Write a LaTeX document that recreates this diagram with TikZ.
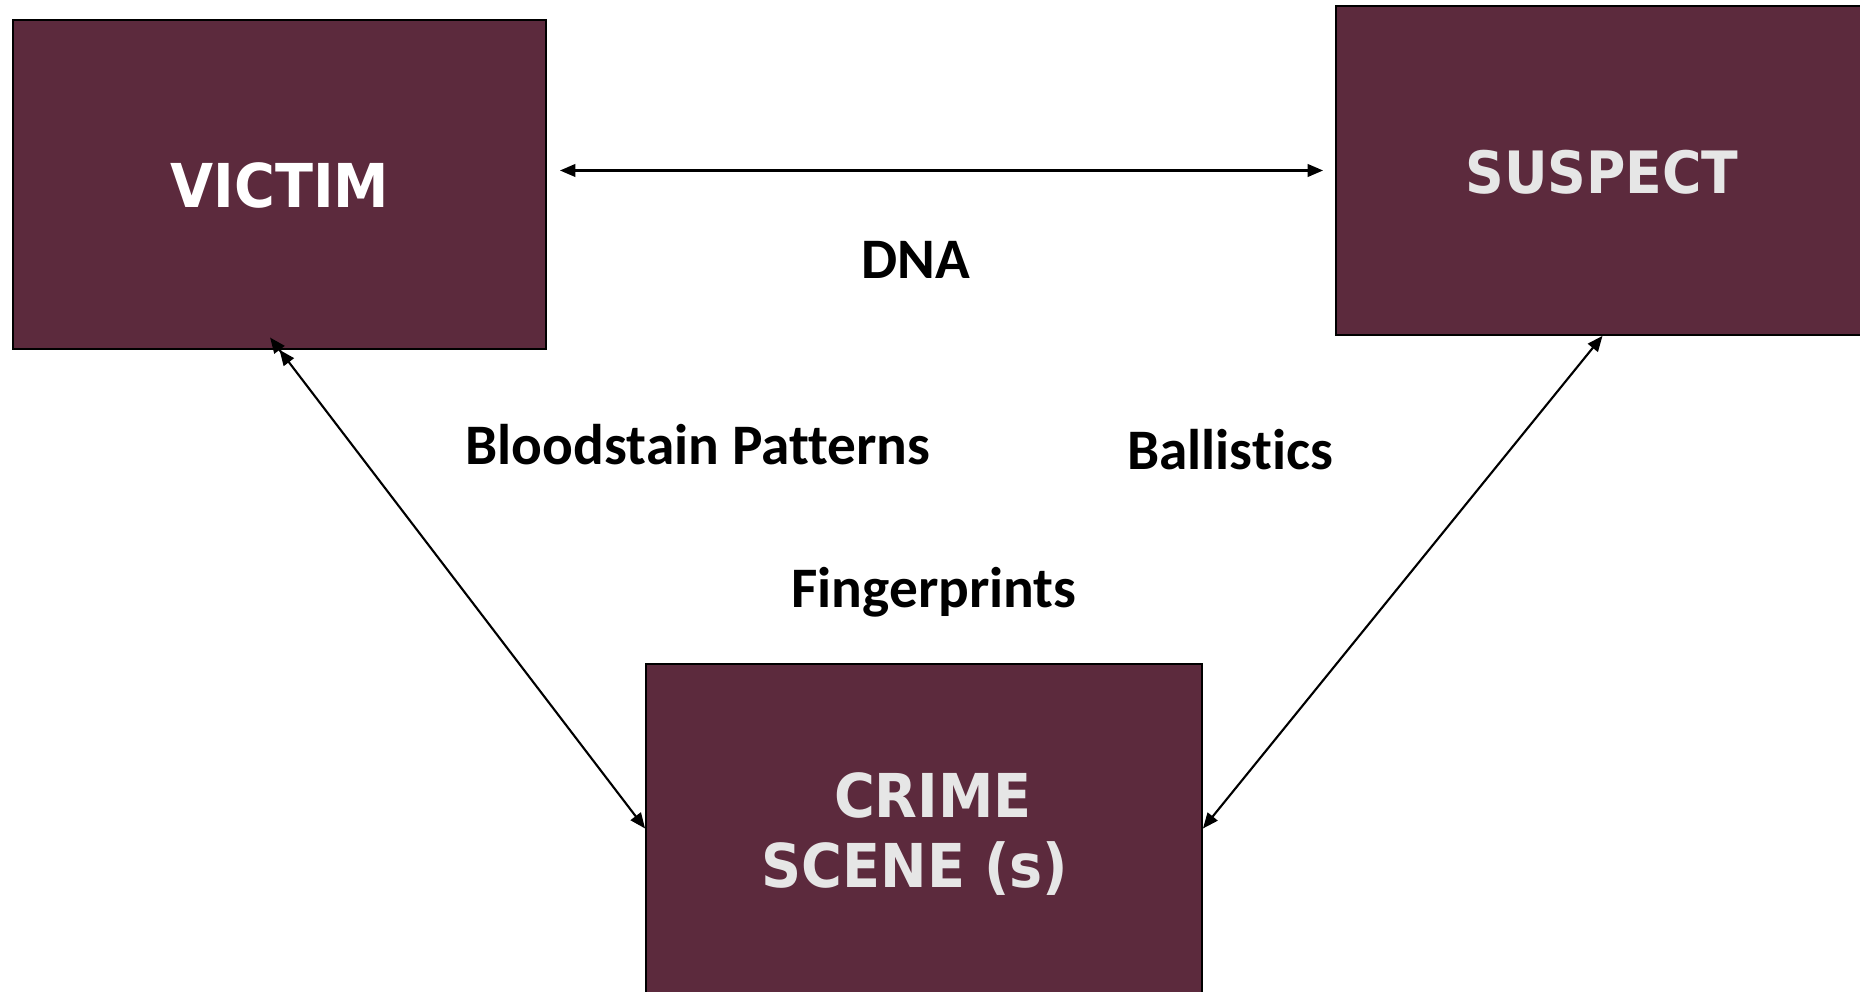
\documentclass[tikz,border=0pt]{standalone}
\usepackage{fontspec}
\setmainfont{Carlito}[Ligatures=NoCommon]
\newfontfamily\boxfont{DejaVu Sans}[FakeStretch=0.92]
\usetikzlibrary{arrows.meta}
\definecolor{boxfill}{HTML}{5C2A3D}
\definecolor{boxtext}{HTML}{E6E6E6}
\tikzset{
  evbox/.style={draw=black, line width=0.45pt, fill=boxfill, inner sep=0pt, minimum height=3.29cm},
  boxlabel/.style={text=boxtext, anchor=base, inner sep=0pt, font=\boxfont\bfseries\fontsize{17.2pt}{19.9pt}\selectfont},
  evlabel/.style={text=black, anchor=base, inner sep=0pt, font=\bfseries\fontsize{16.3pt}{19pt}\selectfont},
  conn/.style={draw=black, line width=0.6pt},
  tip/.tip={Triangle[length=4.4pt,width=3.6pt]}
}
\begin{document}
\begin{tikzpicture}[x=0.01cm,y=-0.01cm]
\useasboundingbox (0,0) rectangle (1860,992);
% boxes
\node[evbox, minimum width=5.33cm] (victim) at (279.5,184.5) {};
\node[evbox, minimum width=5.33cm] (suspect) at (1602.5,170.5) {};
\node[evbox, minimum width=5.56cm] (crime) at (924,828.5) {};
% box texts
\node[boxlabel, text=white] (victimtxt) at (280,208) {VICTIM};
\node[boxlabel, font=\boxfont\bfseries\fontsize{16.6pt}{19.9pt}\selectfont] (suspecttxt) at (1602,194) {SUSPECT};
\node[boxlabel] (crimetxt1) at (933,818) {CRIME};
\node[boxlabel] (crimetxt2) at (915,888) {SCENE (s)};
% connectors
\draw[conn, {tip}-{tip}, shorten <=0.13cm, shorten >=0.12cm] (victim.east |- suspect.west) -- (suspect.west);
\draw[conn, {tip}-{tip[]tip[]}, shorten >=-4.4pt] (crime.west) -- (victim.south);
\draw[conn, {tip}-{tip}] (crime.east) -- (suspect.south);
% evidence labels
\node[evlabel] (dna) at (916,279) {DNA};
\node[evlabel] (blood) at (698,465) {Bloodstain Patterns};
\node[evlabel] (ballistics) at (1230,470) {Ballistics};
\node[evlabel] (finger) at (934,608) {Fingerprints};
\end{tikzpicture}
\end{document}
